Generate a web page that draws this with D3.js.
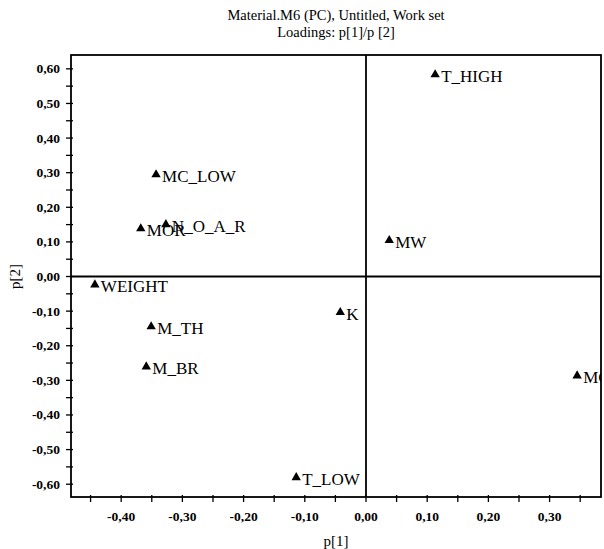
<!DOCTYPE html>
<html>
<head>
<meta charset="utf-8">
<script src="https://cdn.jsdelivr.net/npm/d3@7"></script>
<style>
  body { margin: 0; background: #fff; }
  text { font-family: 'Liberation Serif', 'Times New Roman', serif; }
</style>
</head>
<body>
<div id="chart"></div>
<script>
// loadings data
const names = ['T_HIGH', 'MC_LOW', 'MOR', 'N_O_A_R', 'MW', 'WEIGHT', 'K', 'M_TH', 'M_BR', 'MC_HIGH', 'T_LOW']
const p1 = [0.113, -0.343, -0.368, -0.327, 0.038, -0.443, -0.042, -0.351, -0.359, 0.345, -0.114]
const p2 = [0.582, 0.293, 0.137, 0.149, 0.103, -0.025, -0.105, -0.146, -0.262, -0.288, -0.582]
const xTicks = [-0.4, -0.3, -0.2, -0.1, 0, 0.1, 0.2, 0.3]
const yTicks = [-0.6, -0.5, -0.4, -0.3, -0.2, -0.1, 0, 0.1, 0.2, 0.3, 0.4, 0.5, 0.6]

const margin = { top: 55, left: 71, right: 3, bottom: 52 }
const width = 604 - margin.left - margin.right
const height = 549 - margin.top - margin.bottom

const svg = d3
  .select('#chart')
  .append('svg')
  .attr('width', 604)
  .attr('height', 549)

const g = svg.append('g').attr('transform', `translate(${margin.left},${margin.top})`)

const x = d3.scaleLinear().domain([-0.482, 0.384]).range([0, width])
const y = d3.scaleLinear().domain([-0.637, 0.64]).range([height, 0])

const fmt = d => d3.format('.2f')(d).replace('.', ',').replace('−', '-')

// title
svg.append('text').attr('x', margin.left + width / 2).attr('y', 20)
  .attr('text-anchor', 'middle').attr('font-size', 14.5).text('Material.M6 (PC), Untitled, Work set')
svg.append('text').attr('x', margin.left + width / 2).attr('y', 37)
  .attr('text-anchor', 'middle').attr('font-size', 14.5).text('Loadings: p[1]/p [2]')

// minor ticks every 0.05
const xMinor = d3.range(-0.45, 0.38, 0.05)
const yMinor = d3.range(-0.6, 0.64, 0.05)

g.selectAll('.xminor').data(xMinor).enter().append('line')
  .attr('x1', d => x(d)).attr('x2', d => x(d))
  .attr('y1', height - 2).attr('y2', height + 5)
  .attr('stroke', '#000').attr('stroke-width', 1.3)

g.selectAll('.yminor').data(yMinor).enter().append('line')
  .attr('y1', d => y(d)).attr('y2', d => y(d))
  .attr('x1', -5).attr('x2', 2)
  .attr('stroke', '#000').attr('stroke-width', 1.3)

// tick labels
g.selectAll('.xlab').data(xTicks).enter().append('text')
  .attr('x', d => x(d)).attr('y', height + 24)
  .attr('text-anchor', 'middle').attr('font-size', 13.5).attr('font-weight', 'bold')
  .text(fmt)

g.selectAll('.ylab').data(yTicks).enter().append('text')
  .attr('x', -11).attr('y', d => y(d) + 4.5)
  .attr('text-anchor', 'end').attr('font-size', 13.5).attr('font-weight', 'bold')
  .text(fmt)

// axis titles
svg.append('text').attr('x', margin.left + width / 2).attr('y', 546)
  .attr('text-anchor', 'middle').attr('font-size', 15).text('p[1]')
svg.append('text').attr('transform', `translate(20,${margin.top + y(0)}) rotate(-90)`)
  .attr('text-anchor', 'middle').attr('font-size', 15).text('p[2]')

// zero lines
g.append('line').attr('x1', x(0)).attr('x2', x(0)).attr('y1', 0).attr('y2', height)
  .attr('stroke', '#000').attr('stroke-width', 1.8)
g.append('line').attr('x1', 0).attr('x2', width).attr('y1', y(0)).attr('y2', y(0))
  .attr('stroke', '#000').attr('stroke-width', 1.8)

// frame
g.append('rect').attr('width', width).attr('height', height)
  .attr('fill', 'none').attr('stroke', '#000').attr('stroke-width', 1.8)

// clip labels to the plot
svg.append('clipPath').attr('id', 'clip').append('rect')
  .attr('width', width).attr('height', height)

const pts = g.append('g').attr('clip-path', 'url(#clip)')
const tri = d3.symbol().type(d3.symbolTriangle).size(38)

const data = names.map((n, i) => ({ name: n, p1: p1[i], p2: p2[i] }))

pts.selectAll('path').data(data).enter().append('path')
  .attr('d', tri)
  .attr('transform', d => `translate(${x(d.p1)},${y(d.p2) - 0.5})`)
  .attr('fill', '#000')

pts.selectAll('text').data(data).enter().append('text')
  .attr('x', d => x(d.p1) + 6)
  .attr('y', d => y(d.p2) + 7)
  .attr('font-size', 17)
  .text(d => d.name)
</script>
</body>
</html>
